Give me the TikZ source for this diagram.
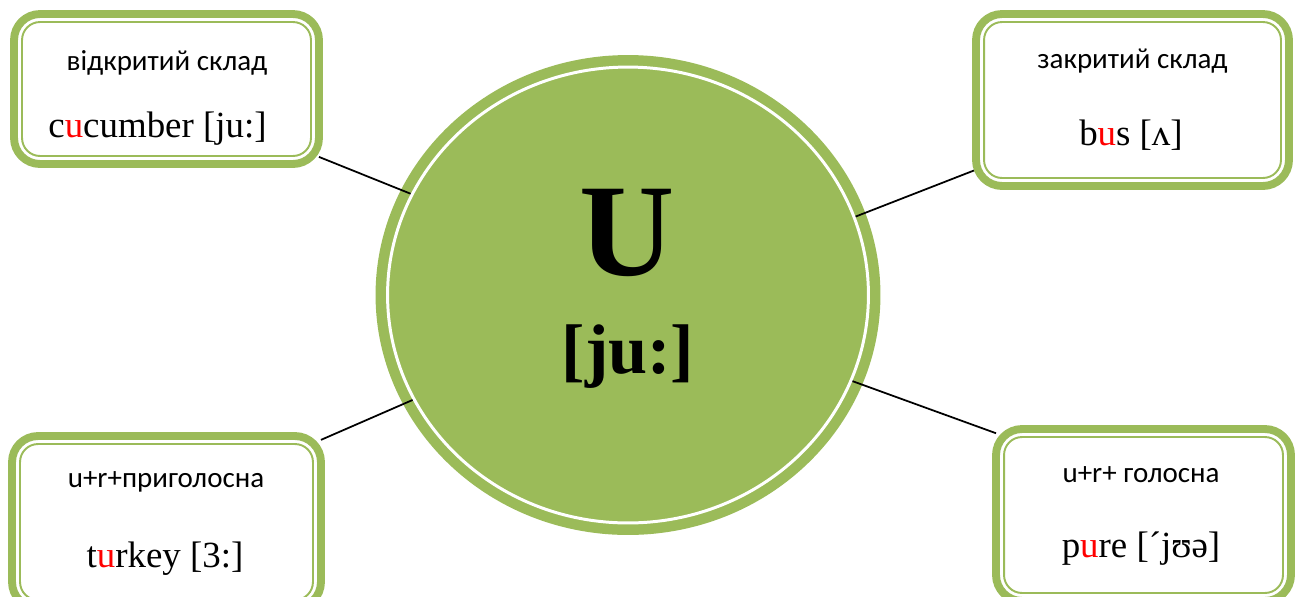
\documentclass[tikz,border=0pt]{standalone}
\usepackage{fontspec}
\setmainfont{Liberation Serif}
\setsansfont{Carlito}
\usetikzlibrary{shapes.geometric}
\definecolor{leaf}{HTML}{9BBB59}
\newcommand{\hl}[1]{\textcolor{red}{#1}}
\pgfdeclarelayer{back}
\pgfsetlayers{back,main}

\begin{document}
\begin{tikzpicture}[x=0.02cm,y=-0.02cm,
  card/.style={draw=leaf,line width=4.5pt,rounded corners=0.52cm,outer sep=0pt,inner sep=0pt},
  trim/.style={draw=leaf,line width=1.1pt,rounded corners=0.36cm},
  head/.style={font=\sffamily\fontsize{16.5}{20}\selectfont,anchor=base,inner sep=0pt},
  word/.style={font=\fontsize{21}{25}\selectfont,anchor=base,inner sep=0pt},
  link/.style={line width=1pt}]
\useasboundingbox (0,0) rectangle (1298,596);

\node[ellipse,fill=leaf,draw=white,line width=1.7pt,minimum width=9.62cm,minimum height=9.12cm,inner sep=0pt,outer sep=0pt] (u) at (628,295) {};

\node[card,minimum width=6.1cm,minimum height=3cm] (tl) at (166.5,89) {};
\node[card,minimum width=6.26cm,minimum height=3.44cm] (tr) at (1132.5,100) {};
\node[card,minimum width=6.18cm,minimum height=3.44cm] (bl) at (166.5,522) {};
\node[card,minimum width=5.9cm,minimum height=3.44cm] (br) at (1143.5,515) {};
\foreach \b in {tl,tr,bl,br}
  \draw[trim] ([shift={(8,8)}]\b.north west) rectangle ([shift={(-8,-8)}]\b.south east);

\begin{pgfonlayer}{back}
\node[ellipse,fill=leaf,minimum width=10.1cm,minimum height=9.6cm,inner sep=0pt,outer sep=0pt] (rim) at (628,295) {};
\draw[link] (tl.336.5) -- (u.155.5);
\draw[link] (tr.204) -- (u.19);
\draw[link] (bl.28.7) -- (u.206.5);
\draw[link] (br.151.5) -- (u.339.75);
\end{pgfonlayer}

\node[font=\bfseries\fontsize{75}{80}\selectfont,anchor=base,inner sep=0pt] (letter) at (627,275) {U};
\node[font=\bfseries\fontsize{40}{44}\selectfont,anchor=base,inner sep=0pt] (sound) at (628,373) {[ju:]};

\node[head] (tlh) at (167,70) {відкритий склад};
\node[word] (tlw) at (157.5,137) {c\hl{u}cumber [ju:]};
\node[head] (trh) at (1132.5,68) {закритий склад};
\node[word] (trw) at (1131,145) {b\hl{u}s [ʌ]};
\node[head] (blh) at (166,487) {u+r+приголосна};
\node[word] (blw) at (165,567) {t\hl{u}rkey [3:]};
\node[head] (brh) at (1141,482) {u+r+ голосна};
\node[word] (brw) at (1141,557) {p\hl{u}re [ˊjʊə]};
\end{tikzpicture}
\end{document}
